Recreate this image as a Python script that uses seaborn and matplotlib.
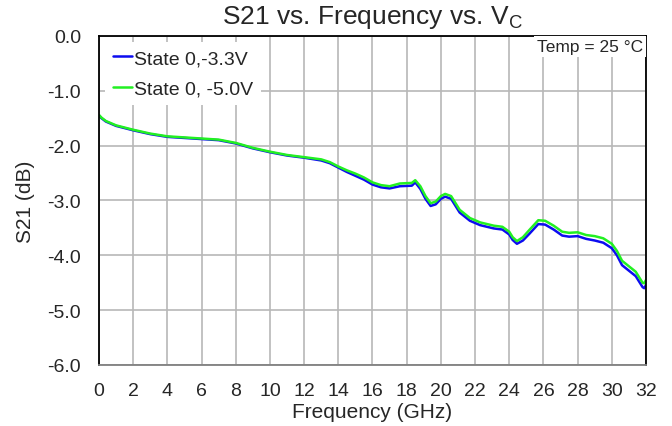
import pandas as pd
import matplotlib
matplotlib.use("Agg")
import matplotlib.pyplot as plt
import seaborn as sns

# 数据
freq_ghz = [0, 0.15, 0.4, 1, 2, 3, 4, 5, 6, 7, 8, 9, 10, 11, 12, 13, 13.5, 14, 14.5, 15,
            15.5, 16, 16.5, 17, 17.6, 18.3, 18.5, 18.8, 19.1, 19.4, 19.7, 20.0, 20.25, 20.6,
            21.1, 21.7, 22.3, 23.1, 23.6, 24.0, 24.2, 24.45, 24.8, 25.2, 25.7, 26.1, 26.6,
            27.1, 27.5, 28.0, 28.5, 29.0, 29.5, 30.0, 30.3, 30.6, 31.0, 31.4, 31.6, 31.8,
            31.9, 32.0]
s21_33v = [-1.45, -1.50, -1.56, -1.64, -1.72, -1.79, -1.84, -1.86, -1.88, -1.90, -1.96, -2.05,
           -2.12, -2.18, -2.22, -2.27, -2.32, -2.40, -2.48, -2.55, -2.62, -2.71, -2.76, -2.78,
           -2.74, -2.73, -2.67, -2.79, -2.97, -3.10, -3.07, -2.97, -2.93, -2.97, -3.22, -3.37,
           -3.45, -3.51, -3.53, -3.62, -3.72, -3.79, -3.73, -3.60, -3.43, -3.44, -3.53, -3.64,
           -3.66, -3.65, -3.70, -3.73, -3.77, -3.87, -4.00, -4.18, -4.28, -4.38, -4.48, -4.58,
           -4.60, -4.54]
s21_50v = [-1.44, -1.49, -1.55, -1.63, -1.71, -1.78, -1.83, -1.85, -1.87, -1.89, -1.95, -2.04,
           -2.11, -2.17, -2.21, -2.25, -2.30, -2.38, -2.45, -2.51, -2.58, -2.67, -2.72, -2.74,
           -2.69, -2.68, -2.63, -2.74, -2.92, -3.05, -3.02, -2.92, -2.88, -2.92, -3.17, -3.32,
           -3.40, -3.46, -3.48, -3.57, -3.67, -3.74, -3.67, -3.53, -3.36, -3.37, -3.46, -3.57,
           -3.59, -3.58, -3.63, -3.65, -3.69, -3.79, -3.92, -4.10, -4.20, -4.30, -4.40, -4.50,
           -4.51, -4.45]
series_names = ["State 0,-3.3V", "State 0, -5.0V"]
series_colors = ["#0c0cf0", "#22f022"]
x_ticks = list(range(0, 33, 2))
y_ticks = [0, -1, -2, -3, -4, -5, -6]

df = pd.concat([
    pd.DataFrame({"freq": freq_ghz, "s21": s21_33v, "series": series_names[0]}),
    pd.DataFrame({"freq": freq_ghz, "s21": s21_50v, "series": series_names[1]}),
])

sns.set_style("white")
plt.rcParams["font.family"] = ["Liberation Sans", "DejaVu Sans"]

fig = plt.figure(figsize=(6.72, 4.27), dpi=100)
ax = fig.add_axes([0.1473, 0.1429, 0.814, 0.7705])

sns.lineplot(data=df, x="freq", y="s21", hue="series", hue_order=series_names,
             palette=series_colors, linewidth=1.8, sort=False, ax=ax)

ax.set_xlim(0, 32)
ax.set_ylim(-6, 0)
ax.set_xticks(x_ticks)
ax.set_yticks(y_ticks)
ax.set_yticklabels([f"{v:.1f}" for v in y_ticks])
ax.grid(True, color="#b8b8b8", linewidth=1.2)
ax.tick_params(length=0, labelsize=14)
ax.tick_params(axis="x", pad=12.5)
ax.tick_params(axis="y", pad=13)
for sp in ax.spines.values():
    sp.set_color("black")
    sp.set_linewidth(1.3)
ax.spines["bottom"].set_color("#808080")

ax.set_title("S21 vs. Frequency vs. V$_\\mathregular{C}$", fontsize=19, pad=9)
ax.set_xlabel("Frequency (GHz)", fontsize=15, labelpad=2)
ax.set_ylabel("S21 (dB)", fontsize=15, labelpad=9)
ax.text(0.995, 0.99, "Temp = 25 °C", transform=ax.transAxes, ha="right", va="top", fontsize=12.5,
        bbox=dict(facecolor="white", edgecolor="none", pad=2))

leg = ax.legend(loc="upper left", frameon=True, handlelength=1.0, handletextpad=0.1,
                labelspacing=0.65, fontsize=14, borderaxespad=0.3, fancybox=False,
                edgecolor="none", facecolor="white", framealpha=1)

fig.savefig("out.png", dpi=100)
